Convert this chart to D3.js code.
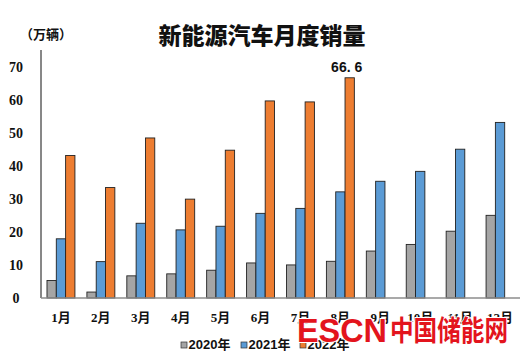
<!DOCTYPE html>
<html>
<head>
<meta charset="utf-8">
<script src="https://cdn.jsdelivr.net/npm/d3@7"></script>
<style>
  html, body { margin: 0; padding: 0; background: #fff; }
  svg { display: block; }
</style>
</head>
<body>
<svg id="chart" width="528" height="357"></svg>
<script>
const months = ["1月","2月","3月","4月","5月","6月","7月","8月","9月","10月","11月","12月"];
const seriesNames = ["2020年","2021年","2022年"];
const sales2020 = [5.3, 1.8, 6.7, 7.3, 8.4, 10.6, 10.0, 11.1, 14.2, 16.2, 20.2, 25.0];
const sales2021 = [17.9, 11.0, 22.6, 20.6, 21.7, 25.6, 27.1, 32.1, 35.3, 38.3, 45.0, 53.1];
const sales2022 = [43.1, 33.4, 48.4, 29.9, 44.7, 59.6, 59.3, 66.6, null, null, null, null];
const yTicks = [0, 10, 20, 30, 40, 50, 60, 70];
const colors = ["#a5a5a5", "#5b9bd5", "#ed7d31"];
const highlightLabel = { month: "8月", series: "2022年", text: "66. 6" };

const allSeries = [sales2020, sales2021, sales2022];
const svg = d3.select("#chart");

const x = d3.scaleBand().domain(months).range([41, 520]).paddingInner(0.3).paddingOuter(0.15);
const xs = d3.scaleBand().domain(seriesNames).range([0, x.bandwidth()]).padding(0);
const y = d3.scaleLinear().domain([0, 75]).range([298, 50]);

// title
svg.append("text").attr("x", 262).attr("y", 44).attr("text-anchor", "middle")
  .attr("font-family", "'Noto Sans CJK SC', sans-serif").attr("font-weight", "900")
  .attr("font-size", 23).attr("fill", "#111").text("新能源汽车月度销量");

svg.append("text").attr("x", 46).attr("y", 39).attr("text-anchor", "middle")
  .attr("font-family", "'Noto Sans CJK SC', sans-serif").attr("font-weight", "bold")
  .attr("font-size", 13).attr("fill", "#111").text("（万辆）");

// y tick labels
svg.append("g").selectAll("text").data(yTicks).join("text")
  .attr("x", 16).attr("y", d => y(d) + 5).attr("text-anchor", "middle")
  .attr("font-family", "'Liberation Serif', serif").attr("font-weight", "bold")
  .attr("font-size", 14).attr("fill", "#111").text(d => d);

// bars
const barData = [];
months.forEach((m, i) => {
  seriesNames.forEach((s, j) => {
    const v = allSeries[j][i];
    if (v != null) barData.push({ m, s, v, c: colors[j] });
  });
});
svg.append("g").selectAll("rect").data(barData).join("rect")
  .attr("x", d => x(d.m) + xs(d.s))
  .attr("y", d => y(d.v))
  .attr("width", xs.bandwidth())
  .attr("height", d => y(0) - y(d.v))
  .attr("fill", d => d.c)
  .attr("stroke", "#222").attr("stroke-width", 0.9);

// axes lines
svg.append("line").attr("x1", 41).attr("x2", 41).attr("y1", 50).attr("y2", y(0))
  .attr("stroke", "#111").attr("stroke-width", 1);
svg.append("line").attr("x1", 41).attr("x2", 520).attr("y1", y(0)).attr("y2", y(0))
  .attr("stroke", "#8c8c8c").attr("stroke-width", 1.3);

// x labels
svg.append("g").selectAll("text").data(months).join("text")
  .attr("x", d => x(d) + x.bandwidth() / 2).attr("y", 322).attr("text-anchor", "middle")
  .attr("font-family", "'Liberation Serif', 'Noto Sans CJK SC', serif").attr("font-weight", "bold")
  .attr("font-size", 13).attr("fill", "#111").text(d => d);

// data label
const hIdx = months.indexOf(highlightLabel.month);
const hSer = seriesNames.indexOf(highlightLabel.series);
svg.append("text")
  .attr("x", x(highlightLabel.month) + xs(highlightLabel.series) + xs.bandwidth() / 2 - 3)
  .attr("y", y(allSeries[hSer][hIdx]) - 6).attr("text-anchor", "middle")
  .attr("font-family", "'Liberation Sans', sans-serif").attr("font-weight", "bold")
  .attr("font-size", 14).attr("fill", "#111").text(highlightLabel.text);

// legend
const legX = [181, 241, 300];
const leg = svg.append("g").selectAll("g").data(seriesNames).join("g")
  .attr("transform", (d, i) => `translate(${legX[i]},0)`);
leg.append("rect").attr("x", 0).attr("y", 342).attr("width", 6).attr("height", 6)
  .attr("fill", (d, i) => colors[i]).attr("stroke", "#333").attr("stroke-width", 0.7);
leg.append("text").attr("x", 7.5).attr("y", 349)
  .attr("font-family", "'Liberation Sans', 'Noto Sans CJK SC', sans-serif").attr("font-weight", "bold")
  .attr("font-size", 13).attr("fill", "#111").text(d => d);

// ESCN watermark
const wm = svg.append("g").attr("fill", "#e3141d")
  .attr("stroke", "#fff").attr("stroke-width", 2).attr("paint-order", "stroke");
wm.append("text").attr("x", 297).attr("y", 342)
  .attr("font-family", "'Liberation Sans', sans-serif").attr("font-weight", "bold")
  .attr("font-size", 34)
  .attr("textLength", 90).attr("lengthAdjust", "spacingAndGlyphs")
  .text("ESCN");
wm.append("text").attr("x", 390).attr("y", 341)
  .attr("font-family", "'Noto Sans CJK SC', sans-serif").attr("font-weight", "bold")
  .attr("font-size", 28)
  .attr("textLength", 118).attr("lengthAdjust", "spacingAndGlyphs")
  .text("中国储能网");
</script>
</body>
</html>
